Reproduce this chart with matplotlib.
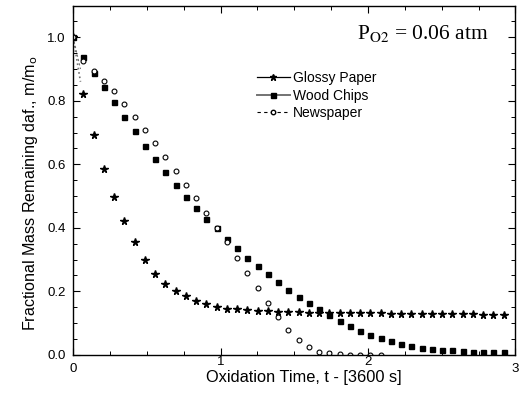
import matplotlib
matplotlib.use("Agg")
import matplotlib.pyplot as plt
from matplotlib.ticker import MultipleLocator

plt.rcParams['font.family'] = ['Liberation Sans', 'DejaVu Sans']

# sample times, hours (one reading every ~250 s)
t = [0.0, 0.07, 0.139, 0.209, 0.278, 0.348, 0.417, 0.487, 0.556, 0.626,
     0.695, 0.765, 0.834, 0.904, 0.973, 1.043, 1.112, 1.182, 1.251, 1.321,
     1.39, 1.46, 1.529, 1.599, 1.668, 1.738, 1.807, 1.877, 1.946, 2.016,
     2.085, 2.155, 2.224, 2.294, 2.363, 2.433, 2.502, 2.572, 2.641, 2.711,
     2.78, 2.85, 2.919]

glossy = [1.0, 0.821, 0.692, 0.585, 0.498, 0.422, 0.356, 0.299, 0.255, 0.223,
          0.201, 0.184, 0.169, 0.160, 0.152, 0.146, 0.143, 0.142, 0.139, 0.138,
          0.136, 0.134, 0.134, 0.133, 0.133, 0.132, 0.132, 0.132, 0.131, 0.131,
          0.131, 0.130, 0.130, 0.130, 0.129, 0.129, 0.129, 0.128, 0.128, 0.128,
          0.127, 0.127, 0.127]

wood = [1.0, 0.937, 0.889, 0.843, 0.796, 0.749, 0.704, 0.659, 0.616, 0.575,
        0.536, 0.498, 0.463, 0.428, 0.398, 0.364, 0.335, 0.305, 0.279, 0.254,
        0.229, 0.205, 0.182, 0.163, 0.144, 0.126, 0.108, 0.091, 0.076, 0.062,
        0.052, 0.044, 0.035, 0.028, 0.023, 0.018, 0.016, 0.014, 0.012, 0.010,
        0.009, 0.008, 0.008]

t_news = t[:31]
news = [1.0, 0.926, 0.894, 0.862, 0.831, 0.791, 0.750, 0.709, 0.667, 0.624,
        0.580, 0.536, 0.493, 0.446, 0.401, 0.356, 0.305, 0.259, 0.211, 0.164,
        0.119, 0.079, 0.046, 0.026, 0.010, 0.005, 0.002, 0.001, 0.0, 0.0,
        0.0]

# short initial traces drawn as lines only
t_start = [0.0, 0.05]
wood_start = [1.0, 0.86]
news_start = [1.0, 0.90]

labels = ['Glossy Paper', 'Wood Chips', 'Newspaper']
xticks = [0, 1, 2, 3]
yticks = [0.0, 0.2, 0.4, 0.6, 0.8, 1.0]

fig = plt.figure(figsize=(5.26, 3.93), dpi=100)
ax = fig.add_axes([0.139, 0.097, 0.841, 0.889])

ax.plot(t_start, wood_start, ls=':', color='0.45', lw=1.2)
ax.plot(t_start, news_start, ls=(0, (2, 2)), color='0.45', lw=0.8)

ax.plot(t, glossy, ls='none', marker='*', ms=5.5, color='black')
ax.plot(t, wood, ls='none', marker='s', ms=3.6, color='black')
ax.plot(t_news, news, ls='none', marker='o', ms=3.5, mfc='white', mec='black', mew=0.8)

# legend handles with the connecting line styles
h1, = ax.plot([], [], ls='-', color='black', lw=0.9, marker='*', ms=5)
h2, = ax.plot([], [], ls='-', color='0.45', lw=1.4, marker='s', ms=3.6, mfc='black', mec='black')
h3, = ax.plot([], [], ls=(0, (3, 3)), color='black', lw=0.8, marker='o', ms=3.2,
              mfc='white', mec='black')
ax.legend([h1, h2, h3], labels,
          loc='upper left', bbox_to_anchor=(0.416, 0.812), frameon=False,
          borderpad=0, borderaxespad=0,
          fontsize=10, handlelength=2.35, handletextpad=0.2, labelspacing=0.25)

ax.text(0.938, 0.921, r'P$_{\mathrm{O2}}$ = 0.06 atm', transform=ax.transAxes,
        ha='right', va='center', fontsize=15.5, family='Liberation Serif',
        math_fontfamily='stix')

ax.set_xlim(0, 3)
ax.set_ylim(0, 1.1)
ax.set_xticks(xticks)
ax.set_xticklabels([str(v) for v in xticks])
ax.set_yticks(yticks)
ax.set_yticklabels(['%.1f' % v for v in yticks])
ax.xaxis.set_minor_locator(MultipleLocator(0.25))
ax.yaxis.set_minor_locator(MultipleLocator(0.05))
ax.tick_params(which='both', direction='in', top=True, right=True, labelsize=9.5)
ax.tick_params(which='major', length=5, width=0.8)
ax.tick_params(which='minor', length=3, width=0.7)
ax.tick_params(axis='y', which='major', pad=5.5)
ax.tick_params(axis='x', which='major', pad=6)
# middle x labels sit a little higher
xt = ax.xaxis.get_major_ticks()
for tk in xt[1:3]:
    tk.set_pad(1)
for s in ax.spines.values():
    s.set_linewidth(1.0)

ax.set_xlabel('Oxidation Time, t - [3600 s]', fontsize=11.8)
ax.xaxis.set_label_coords(0.522, -0.043)
ax.set_ylabel('Fractional Mass Remaining daf., m/m$_\\mathrm{o}$', fontsize=11.6)
ax.yaxis.set_label_coords(-0.0746, 0.4635)

fig.savefig('out.png', dpi=100)
